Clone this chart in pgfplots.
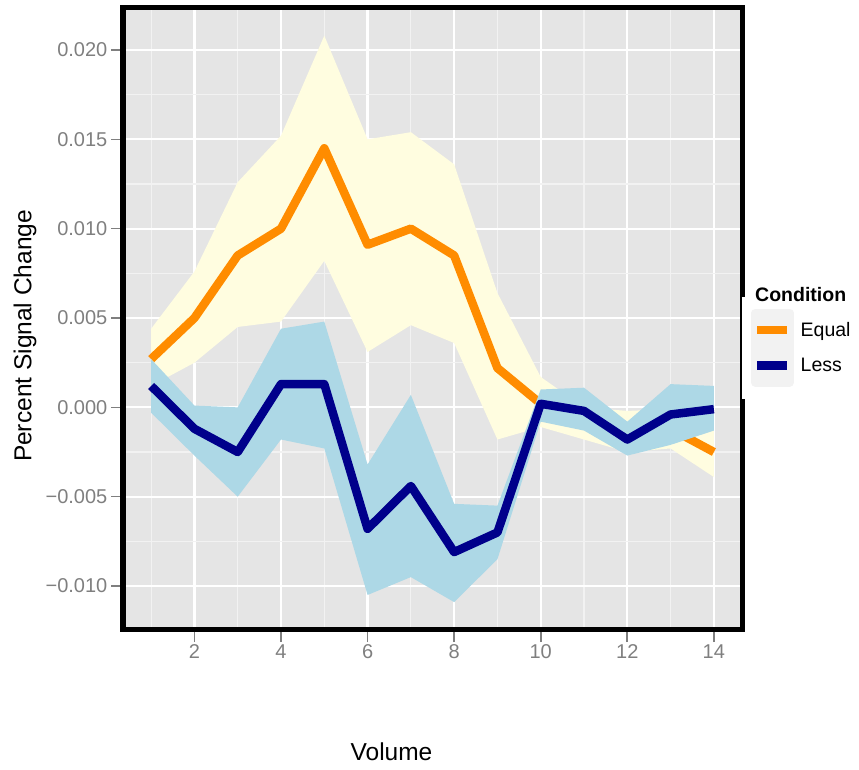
\documentclass[border=0pt]{standalone}
\usepackage{pgfplots}
\pgfplotsset{compat=1.18}
\usepackage{pgfplotstable}
\usepackage{fontspec}
\setmainfont{Liberation Sans}

\definecolor{panelbg}{HTML}{E5E5E5}
\definecolor{minorgrid}{HTML}{F2F2F2}
\definecolor{tickgray}{HTML}{7F7F7F}
\definecolor{keybg}{HTML}{F2F2F2}
\definecolor{eqline}{HTML}{FF8C00}
\definecolor{lsline}{HTML}{00008B}
\definecolor{eqfill}{HTML}{FFFDE0}
\definecolor{lsfill}{HTML}{ADD8E6}

% Equal condition: mean line
\pgfplotstableread{
x y
1 0.0027
2 0.0050
3 0.0085
4 0.0100
5 0.0145
6 0.0091
7 0.0100
8 0.0085
9 0.0022
10 0.0002
11 -0.0006
12 -0.0012
13 -0.0012
14 -0.0025
}\equalmean

% Equal condition: ribbon (upper bound 1..14, then lower bound 14..1)
\pgfplotstableread{
x y
1 0.0044
2 0.0076
3 0.0126
4 0.0152
5 0.0208
6 0.0150
7 0.0154
8 0.0136
9 0.0064
10 0.0017
11 0.0000
12 -0.0002
13 -0.0001
14 -0.0012
14 -0.0039
13 -0.0023
12 -0.0025
11 -0.0018
10 -0.0011
9 -0.0018
8 0.0036
7 0.0046
6 0.0031
5 0.0082
4 0.0048
3 0.0045
2 0.0025
1 0.0012
}\equalband

% Less condition: mean line
\pgfplotstableread{
x y
1 0.0012
2 -0.0012
3 -0.0025
4 0.0013
5 0.0013
6 -0.0068
7 -0.0044
8 -0.0081
9 -0.0070
10 0.0002
11 -0.0002
12 -0.0018
13 -0.0004
14 -0.0001
}\lessmean

% Less condition: ribbon (upper bound 1..14, then lower bound 14..1)
\pgfplotstableread{
x y
1 0.0027
2 0.0001
3 0.0000
4 0.0044
5 0.0048
6 -0.0032
7 0.0007
8 -0.0054
9 -0.0055
10 0.0010
11 0.0011
12 -0.0008
13 0.0013
14 0.0012
14 -0.0013
13 -0.0021
12 -0.0027
11 -0.0013
10 -0.0008
9 -0.0085
8 -0.0109
7 -0.0095
6 -0.0105
5 -0.0023
4 -0.0018
3 -0.0050
2 -0.0027
1 -0.0003
}\lessband

\begin{document}
\begin{tikzpicture}
\path[use as bounding box] (0,0) rectangle (859bp,770bp);
\begin{axis}[
  at={(123bp,140bp)}, anchor=south west,
  scale only axis, width=619bp, height=622bp,
  xmin=0.35, xmax=14.65, ymin=-0.01246, ymax=0.02235,
  axis background/.style={fill=panelbg},
  xtick={2,4,6,8,10,12,14},
  xticklabels={2,4,6,8,10,12,14},
  minor xtick={1,3,5,7,9,11,13},
  ytick={-0.010,-0.005,0,0.005,0.010,0.015,0.020},
  yticklabels={−0.010,−0.005,0.000,0.005,0.010,0.015,0.020},
  minor ytick={-0.0075,-0.0025,0.0025,0.0075,0.0125,0.0175},
  grid=both,
  major grid style={white, line width=2.2bp},
  minor grid style={minorgrid, line width=1.1bp},
  axis line style={black, line width=5bp},
  tick style={tickgray, line width=1.6bp},
  major tick length=12bp, minor tick length=0bp,
  tick align=outside, tick pos=left,
  scaled y ticks=false,
  /pgf/number format/assume math mode=true,
  ticklabel style={font=\fontsize{20bp}{23bp}\selectfont, text=tickgray},
  yticklabel style={inner xsep=3.5bp},
  xticklabel style={inner ysep=2.5bp},
  legend cell align=left,
  legend style={at={(1,0.5362)}, anchor=north west, draw=none, fill=white,
    font=\fontsize{19.5bp}{22bp}\selectfont,
    inner xsep=9bp, inner ysep=12bp, row sep=-7bp,
    /tikz/every odd column/.append style={column sep=7bp},
    nodes={inner sep=0pt}},
]
% Equal ribbon and line
\addplot[fill=eqfill, draw=none, forget plot] table {\equalband} -- cycle;
\addplot[eqline, line width=8.5bp, line join=round,
  legend image code/.code={\fill[keybg] (0bp,-17bp) rectangle (34bp,17bp);
    \draw[eqline, line width=8.5bp] (2bp,0bp) -- (32bp,0bp);}]
  table {\equalmean};
\addlegendentry{Equal}

% Less ribbon and line
\addplot[fill=lsfill, draw=none, forget plot] table {\lessband} -- cycle;
\addplot[lsline, line width=8.5bp, line join=round,
  legend image code/.code={\fill[keybg] (0bp,-17bp) rectangle (34bp,17bp);
    \draw[lsline, line width=8.5bp] (2bp,0bp) -- (32bp,0bp);}]
  table {\lessmean};
\addlegendentry{Less}
\end{axis}
\node[anchor=base west, font=\fontsize{19.5bp}{22bp}\selectfont\bfseries, inner sep=0pt] at (755bp,468bp) {Condition};
\node[rotate=90, font=\fontsize{24.5bp}{28bp}\selectfont] at (25bp,434bp) {Percent Signal Change};
\node[font=\fontsize{24.5bp}{28bp}\selectfont] at (391.5bp,18bp) {Volume};
\end{tikzpicture}
\end{document}
